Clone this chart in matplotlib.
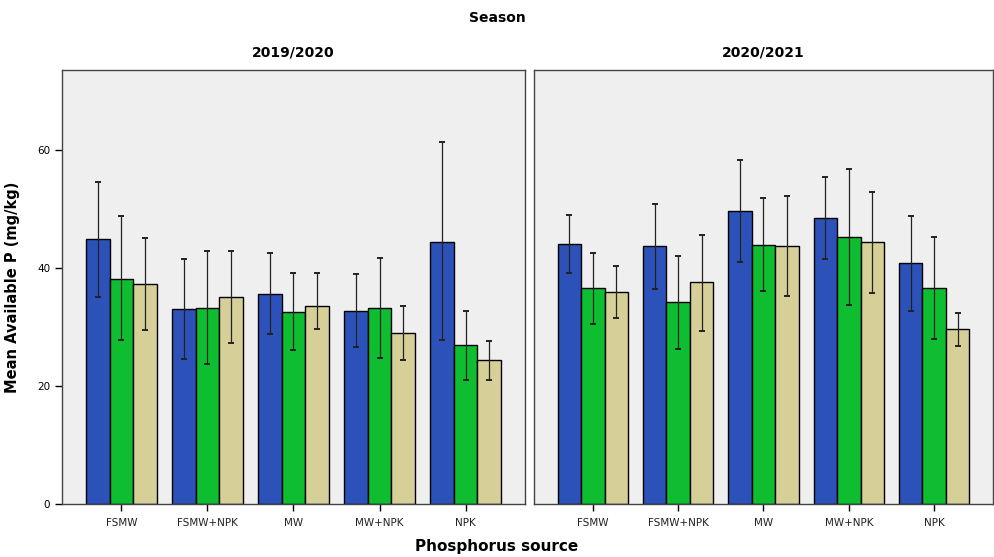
import numpy as np
import matplotlib
matplotlib.use("Agg")
import matplotlib.pyplot as plt

# ── Data ───────────────────────────────────────────────────────────────────────
SOURCES = ["FSMW", "FSMW+NPK", "MW", "MW+NPK", "NPK"]
SEASONS = ["2019/2020", "2020/2021"]
COLORS = ["#2C52BA", "#0FBE30", "#D6CF98"]

# means per series (3 series per source), season 2019/2020
s1_a = [44.9, 33.1, 35.6, 32.8, 44.5]
s1_b = [38.2, 33.3, 32.6, 33.3, 26.9]
s1_c = [37.3, 35.1, 33.6, 29.0, 24.4]
# error bar limits (upper, lower)
s1_a_hi = [54.6, 41.5, 42.5, 39.0, 61.4]
s1_a_lo = [35.1, 24.6, 28.8, 26.6, 27.8]
s1_b_hi = [48.8, 42.9, 39.1, 41.8, 32.7]
s1_b_lo = [27.8, 23.7, 26.1, 24.8, 21.1]
s1_c_hi = [45.1, 42.9, 39.1, 33.6, 27.7]
s1_c_lo = [29.5, 27.3, 29.6, 24.4, 21.0]

# season 2020/2021
s2_a = [44.1, 43.7, 49.7, 48.5, 40.8]
s2_b = [36.7, 34.2, 44.0, 45.3, 36.6]
s2_c = [36.0, 37.7, 43.7, 44.4, 29.6]
s2_a_hi = [49.0, 50.8, 58.4, 55.4, 48.9]
s2_a_lo = [39.1, 36.4, 41.0, 41.5, 32.8]
s2_b_hi = [42.5, 42.1, 51.9, 56.8, 45.3]
s2_b_lo = [30.6, 26.3, 36.2, 33.8, 27.9]
s2_c_hi = [40.4, 45.7, 52.2, 52.9, 32.4]
s2_c_lo = [31.6, 29.4, 35.2, 35.8, 26.8]

PANELS = [
    [(s1_a, s1_a_lo, s1_a_hi), (s1_b, s1_b_lo, s1_b_hi), (s1_c, s1_c_lo, s1_c_hi)],
    [(s2_a, s2_a_lo, s2_a_hi), (s2_b, s2_b_lo, s2_b_hi), (s2_c, s2_c_lo, s2_c_hi)],
]

# ── Figure ─────────────────────────────────────────────────────────────────────
fig = plt.figure(figsize=(9.95, 5.57), dpi=100)
W, H = 995, 557
boxes = [(62, 525), (534, 993)]
top, bot = 70, 504

x = np.arange(len(SOURCES))
bw = 0.275

for p, (x0, x1) in enumerate(boxes):
    ax = fig.add_axes([x0 / W, 1 - bot / H, (x1 - x0) / W, (bot - top) / H])
    ax.set_facecolor("#EFEFEF")
    for k, (vals, lo, hi) in enumerate(PANELS[p]):
        vals = np.array(vals)
        pos = x + (k - 1) * bw
        ax.bar(pos, vals, width=bw, color=COLORS[k], edgecolor="black",
               linewidth=1.0, zorder=2)
        yerr = [vals - np.array(lo), np.array(hi) - vals]
        ax.errorbar(pos, vals, yerr=yerr, fmt="none", ecolor="#222222",
                    elinewidth=0.9, capsize=2.5, capthick=1.4, zorder=3)
    ax.set_xlim(-0.69, 4.69)
    ax.set_ylim(0, 73.6)
    ax.set_xticks(x)
    ax.set_xticklabels(SOURCES, fontsize=7.5, color="#222222")
    ax.tick_params(axis="x", length=5, width=1, pad=5)
    if p == 0:
        ax.set_yticks([0, 20, 40, 60])
        ax.tick_params(axis="y", labelsize=7.5, length=5, width=1)
        ax.set_ylabel("Mean Available P (mg/kg)", fontsize=10.5,
                      fontweight="bold", labelpad=12)
    else:
        ax.set_yticks([])
    for s in ax.spines.values():
        s.set_color("#444444")
        s.set_linewidth(1.0)
    ax.set_title(SEASONS[p], fontsize=10, fontweight="bold", pad=10)

fig.text(497 / W, 1 - 18 / H, "Season", ha="center", va="center",
         fontsize=10, fontweight="bold")
fig.text(497 / W, 1 - 546 / H, "Phosphorus source", ha="center", va="center",
         fontsize=11, fontweight="bold")

plt.savefig("out.png", dpi=100, facecolor="white")
